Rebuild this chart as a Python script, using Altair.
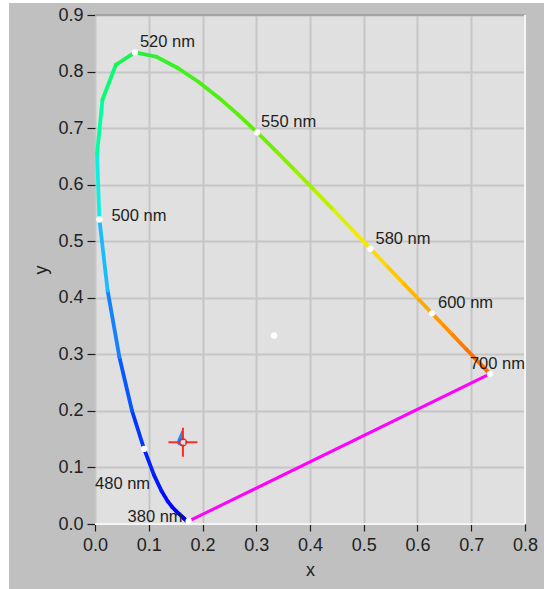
import altair as alt
import pandas as pd

# CIE 1931 2-degree spectral locus chromaticity (5 nm steps)
wavelengths = [380, 385, 390, 395, 400, 405, 410, 415, 420, 425, 430, 435, 440, 445,
               450, 455, 460, 465, 470, 475, 480, 485, 490, 495, 500, 505, 510, 515,
               520, 525, 530, 535, 540, 545, 550, 555, 560, 565, 570, 575, 580, 585,
               590, 595, 600, 605, 610, 615, 620, 625, 630, 635, 640, 645, 650, 655,
               660, 665, 670, 675, 680, 685, 690, 695, 700]
cie_x = [0.1741, 0.1740, 0.1738, 0.1736, 0.1733, 0.1730, 0.1726, 0.1721, 0.1714, 0.1703,
         0.1689, 0.1669, 0.1644, 0.1611, 0.1566, 0.1510, 0.1440, 0.1355, 0.1241, 0.1096,
         0.0913, 0.0687, 0.0454, 0.0235, 0.0082, 0.0039, 0.0139, 0.0389, 0.0743, 0.1142,
         0.1547, 0.1929, 0.2296, 0.2658, 0.3016, 0.3373, 0.3731, 0.4087, 0.4441, 0.4788,
         0.5125, 0.5448, 0.5752, 0.6029, 0.6270, 0.6482, 0.6658, 0.6801, 0.6915, 0.7006,
         0.7079, 0.7140, 0.7190, 0.7230, 0.7260, 0.7283, 0.7300, 0.7311, 0.7320, 0.7327,
         0.7334, 0.7340, 0.7344, 0.7346, 0.7347]
cie_y = [0.0050, 0.0050, 0.0049, 0.0049, 0.0048, 0.0048, 0.0048, 0.0048, 0.0051, 0.0058,
         0.0069, 0.0086, 0.0109, 0.0138, 0.0177, 0.0227, 0.0297, 0.0399, 0.0578, 0.0868,
         0.1327, 0.2007, 0.2950, 0.4127, 0.5384, 0.6548, 0.7502, 0.8120, 0.8338, 0.8262,
         0.8059, 0.7816, 0.7543, 0.7243, 0.6923, 0.6589, 0.6245, 0.5896, 0.5547, 0.5202,
         0.4866, 0.4544, 0.4242, 0.3965, 0.3725, 0.3514, 0.3340, 0.3197, 0.3083, 0.2993,
         0.2920, 0.2859, 0.2809, 0.2770, 0.2740, 0.2717, 0.2700, 0.2689, 0.2680, 0.2673,
         0.2666, 0.2660, 0.2656, 0.2654, 0.2653]

# wavelength -> colour stops for the locus
color_wl = [380, 440, 460, 470, 480, 485, 490, 495, 500, 505, 510, 520, 530, 550,
            560, 570, 575, 580, 590, 600, 620, 700]
color_hex = ["#1414c4", "#0000e6", "#0000ff", "#0010ff", "#0028ff", "#0048ff", "#1068ff",
             "#1c98ff", "#18e0ff", "#00ffc0", "#00ff84", "#20f040", "#40f020", "#60ee00",
             "#90f000", "#c8f000", "#f0f000", "#ffe000", "#ffc000", "#ffa000", "#ff7400",
             "#ff5a00"]

marked_wl = [380, 480, 500, 520, 550, 580, 600, 700]
marked_text = ["380 nm", "480 nm", "500 nm", "520 nm", "550 nm", "580 nm", "600 nm", "700 nm"]

white_point_x = [0.3333]
white_point_y = [0.3333]

cross_x = [0.1636]
cross_y = [0.1444]
flame_x = [0.1588]
flame_y = [0.1515]

x_ticks = [0.0, 0.1, 0.2, 0.3, 0.4, 0.5, 0.6, 0.7, 0.8]
y_ticks = [0.0, 0.1, 0.2, 0.3, 0.4, 0.5, 0.6, 0.7, 0.8, 0.9]

# label placement (dx, dy, align) around each marked point
label_offsets = {380: (-6, 1, "right"), 480: (-49, 40, "left"), 500: (12, 1, "left"),
                 520: (5, -5, "left"), 550: (4, -5, "left"), 580: (5, -5, "left"),
                 600: (6, -5, "left"), 700: (-20, -5, "left")}

FONT = "Liberation Sans"
W, H = 430, 509

seg = pd.DataFrame({
    "x": cie_x[:-1], "y": cie_y[:-1], "x2": cie_x[1:], "y2": cie_y[1:],
    "wl": [(a + b) / 2 for a, b in zip(wavelengths[:-1], wavelengths[1:])],
})
locus = pd.DataFrame({"wl": wavelengths, "x": cie_x, "y": cie_y})
marks = locus[locus["wl"].isin(marked_wl)].copy()
marks["label"] = [marked_text[marked_wl.index(w)] for w in marks["wl"]]
purple = pd.DataFrame({"x": [cie_x[0], cie_x[-1]], "y": [cie_y[0], cie_y[-1]]})
wp = pd.DataFrame({"x": white_point_x, "y": white_point_y})
cross = pd.DataFrame({"x": cross_x, "y": cross_y})
flame = pd.DataFrame({"x": flame_x, "y": flame_y})

xs = alt.Scale(domain=[0, 0.8], nice=False, zero=False)
ys = alt.Scale(domain=[0, 0.9], nice=False, zero=False)
xaxis = alt.Axis(values=x_ticks, format=".1f", grid=True, gridColor="#c6c6c6", gridWidth=2,
                 domain=False, ticks=True, tickColor="#1a1a1a", tickSize=7, tickWidth=1.2,
                 labelPadding=5, labelFont=FONT, labelFontSize=18, labelColor="#222222",
                 labelFlush=False, title="x", titleFont=FONT, titleFontSize=18,
                 titleFontWeight="normal", titleColor="#222222", titlePadding=7)
yaxis = alt.Axis(values=y_ticks, format=".1f", grid=True, gridColor="#c6c6c6", gridWidth=2,
                 domain=False, ticks=True, tickColor="#1a1a1a", tickSize=8, tickWidth=1.2,
                 labelPadding=4, labelFont=FONT, labelFontSize=18, labelColor="#222222",
                 labelFlush=False, title="y", titleFont=FONT, titleFontSize=18,
                 titleFontWeight="normal", titleColor="#222222", titlePadding=7)

X = lambda f="x": alt.X(f"{f}:Q", scale=xs, axis=xaxis)
Y = lambda f="y": alt.Y(f"{f}:Q", scale=ys, axis=yaxis)

one = alt.Data(values=[{}])

# white strips outside the grey panel (left and top)
strip_left = alt.Chart(one).mark_rect(color="white").encode(
    x=alt.value(-95), x2=alt.value(-86), y=alt.value(-15), y2=alt.value(H + 65))
strip_top = alt.Chart(one).mark_rect(color="white").encode(
    x=alt.value(-95), x2=alt.value(W + 19), y=alt.value(-15), y2=alt.value(-12))

# plot frame edges
frame_top = alt.Chart(one).mark_rule(color="#a4a4a4", strokeWidth=2).encode(
    y=alt.value(0), x=alt.value(0), x2=alt.value(W))
frame_right = alt.Chart(one).mark_rule(color="#f4f4f4", strokeWidth=2).encode(
    x=alt.value(W), y=alt.value(0), y2=alt.value(H))
frame_bottom = alt.Chart(one).mark_rule(color="#f4f4f4", strokeWidth=2).encode(
    y=alt.value(H), x=alt.value(0), x2=alt.value(W))

purple_line = alt.Chart(purple).mark_line(color="#ff00ff", strokeWidth=3).encode(x=X(), y=Y())

locus_line = alt.Chart(seg).mark_rule(strokeWidth=3.8, strokeCap="round").encode(
    x=X(), y=Y(), x2="x2:Q", y2="y2:Q",
    color=alt.Color("wl:Q", scale=alt.Scale(type="linear", domain=color_wl, range=color_hex,
                                            interpolate="rgb"), legend=None))

dots = alt.Chart(marks).mark_circle(color="white", size=40, opacity=1).encode(x=X(), y=Y())
wp_dot = alt.Chart(wp).mark_circle(color="white", size=40, opacity=1).encode(x=X(), y=Y())

label_layers = []
for w, t in zip(marked_wl, marked_text):
    dx, dy, al = label_offsets[w]
    d = marks[marks["wl"] == w]
    label_layers.append(
        alt.Chart(d).mark_text(align=al, baseline="alphabetic", dx=dx, dy=dy, font=FONT,
                               fontSize=16.5, color="#1e1e1e").encode(x=X(), y=Y(), text="label:N"))

flame_mark = alt.Chart(flame).mark_point(
    shape="M0.15,-1 C0.4,-0.4 0.5,0.3 0.45,0.6 C0.4,1 -0.4,1 -0.42,0.6 C-0.45,0.2 -0.1,-0.3 0.15,-1 Z",
    filled=True, color="#1e90ff", size=256, opacity=1).encode(x=X(), y=Y())
cross_mark = alt.Chart(cross).mark_point(
    shape="M-1,0L1,0M0,-1L0,1", filled=False, color="#ff2a2a", strokeWidth=2, size=841,
    opacity=1).encode(x=X(), y=Y())
cross_hole = alt.Chart(cross).mark_circle(color="#e0e0e0", size=22, opacity=1).encode(x=X(), y=Y())
cross_circle = alt.Chart(cross).mark_point(
    shape="circle", filled=False, color="#e82020", strokeWidth=1.3, size=50,
    opacity=1).encode(x=X(), y=Y())

chart = alt.layer(
    strip_left, strip_top, frame_top, frame_right, frame_bottom,
    purple_line, locus_line, dots, wp_dot, *label_layers, flame_mark, cross_mark,
    cross_hole, cross_circle
).properties(
    width=W, height=H,
    autosize=alt.AutoSizeParams(type="none"),
    padding={"left": 95, "top": 15, "right": 19, "bottom": 65},
    background="#c0c0c0",
).configure_view(fill="#e0e0e0", stroke=None)

chart.save("out.html", embed_options={"renderer": "svg", "actions": False})
